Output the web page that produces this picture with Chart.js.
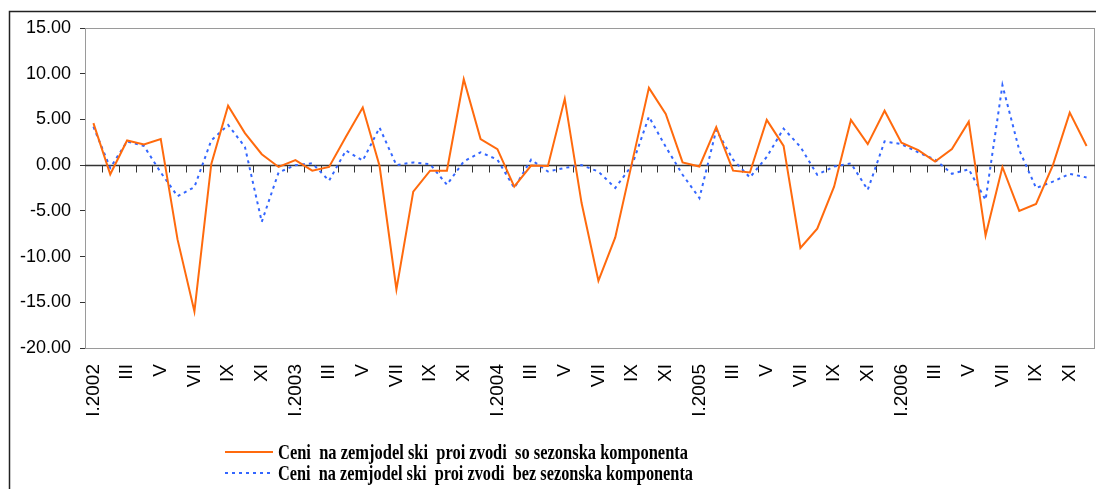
<!DOCTYPE html>
<html>
<head>
<meta charset="utf-8">
<script src="https://cdn.jsdelivr.net/npm/chart.js@4"></script>
<style>
html,body{margin:0;padding:0;background:#fff;}
canvas{display:block;}
</style>
</head>
<body>
<canvas id="c" width="1096" height="489"></canvas>
<script>
// ---- data ----
const years = ['2002','2003','2004','2005','2006'];
const months = ['I','II','III','IV','V','VI','VII','VIII','IX','X','XI','XII'];
const categories = [];
years.forEach(y => months.forEach((m, i) => categories.push(i === 0 ? m + '.' + y : m)));

const seriesNames = [
  'Ceni  na zemjodel ski  proi zvodi  so sezonska komponenta',
  'Ceni  na zemjodel ski  proi zvodi  bez sezonska komponenta'
];

const withSeasonal = [
  4.6, -1.0, 2.7, 2.25, 2.85, -8.15, -16.0, 0.1, 6.5, 3.5, 1.2, -0.2,
  0.55, -0.6, -0.2, 3.1, 6.3, -0.1, -13.6, -2.9, -0.6, -0.6, 9.4, 2.85,
  1.75, -2.35, -0.05, -0.1, 7.25, -4.15, -12.65, -7.9, 0.3, 8.45, 5.6, 0.3,
  -0.15, 4.15, -0.6, -0.8, 4.95, 2.1, -9.05, -6.95, -2.35, 4.95, 2.3, 5.95,
  2.45, 1.65, 0.4, 1.75, 4.75, -7.7, -0.2, -5.0, -4.25, 0.0, 5.75, 2.1
];

const withoutSeasonal = [
  4.2, -0.3, 2.6, 2.1, -0.8, -3.4, -2.4, 2.7, 4.4, 2.0, -6.2, -0.8,
  0.0, 0.2, -1.7, 1.6, 0.5, 4.1, 0.0, 0.3, 0.1, -2.15, 0.4, 1.4,
  0.6, -2.5, 0.6, -0.7, -0.3, 0.0, -0.7, -2.5, 0.0, 5.3, 2.0, -1.05,
  -3.6, 3.85, 0.6, -1.35, 0.9, 4.0, 2.0, -1.05, -0.15, 0.2, -2.7, 2.6,
  2.3, 1.4, 0.6, -0.95, -0.45, -3.8, 8.75, 1.65, -2.5, -1.8, -0.95, -1.35
];

const yMin = -20, yMax = 15, yStep = 5;

// ---- styles ----
const ORANGE = '#FF6A0D';
const BLUE = '#3366FF';

const framePlugin = {
  id: 'frame',
  beforeDraw(chart) {
    const ctx = chart.ctx;
    ctx.save();
    ctx.fillStyle = '#fff';
    ctx.fillRect(0, 0, chart.width, chart.height);
    ctx.strokeStyle = '#222';
    ctx.lineWidth = 1.5;
    ctx.strokeRect(9.5, 11.5, chart.width + 50, chart.height + 50);
    ctx.restore();
  },
  beforeDatasetsDraw(chart) {
    const ctx = chart.ctx;
    const a = chart.chartArea;
    const xs = chart.scales.x, ys = chart.scales.y;
    ctx.save();
    // plot area border
    ctx.strokeStyle = '#9a9a9a';
    ctx.lineWidth = 1;
    ctx.strokeRect(a.left + 0.5, a.top + 0.5, a.right - a.left - 1, a.bottom - a.top);
    // zero line
    const y0 = Math.round(ys.getPixelForValue(0)) + 0.5;
    ctx.strokeStyle = '#333';
    ctx.lineWidth = 1.3;
    ctx.beginPath();
    ctx.moveTo(a.left, y0);
    ctx.lineTo(a.right, y0);
    ctx.stroke();
    // tick marks at category boundaries hanging below zero line
    ctx.lineWidth = 1;
    ctx.beginPath();
    for (let i = 1; i < categories.length; i++) {
      const x = Math.round((xs.getPixelForValue(i - 1) + xs.getPixelForValue(i)) / 2) + 0.5;
      ctx.moveTo(x, y0);
      ctx.lineTo(x, y0 + 7);
    }
    ctx.stroke();
    ctx.restore();
  },
  afterDraw(chart) {
    const ctx = chart.ctx;
    ctx.save();
    const rows = [
      {y: 452, text: seriesNames[0], color: ORANGE, dash: [], w: 410},
      {y: 473, text: seriesNames[1], color: BLUE, dash: [3, 4], w: 415}
    ];
    rows.forEach(r => {
      ctx.strokeStyle = r.color;
      ctx.lineWidth = 2;
      ctx.setLineDash(r.dash);
      ctx.beginPath();
      ctx.moveTo(225, r.y);
      ctx.lineTo(273, r.y);
      ctx.stroke();
      ctx.setLineDash([]);
      ctx.font = 'bold 21px "Liberation Serif"';
      ctx.fillStyle = '#000';
      ctx.textBaseline = 'alphabetic';
      const mw = ctx.measureText(r.text).width;
      ctx.save();
      ctx.translate(278, r.y + 7);
      ctx.scale(r.w / mw, 1);
      ctx.fillText(r.text, 0, 0);
      ctx.restore();
    });
    ctx.restore();
  }
};

new Chart(document.getElementById('c'), {
  type: 'line',
  data: {
    labels: categories,
    datasets: [
      {
        label: seriesNames[0],
        data: withSeasonal,
        borderColor: ORANGE,
        backgroundColor: ORANGE,
        borderWidth: 2,
        pointRadius: 0,
        tension: 0,
        fill: false
      },
      {
        label: seriesNames[1],
        data: withoutSeasonal,
        borderColor: BLUE,
        backgroundColor: BLUE,
        borderWidth: 2,
        borderDash: [3, 4],
        pointRadius: 0,
        tension: 0,
        fill: false
      }
    ]
  },
  options: {
    responsive: false,
    animation: false,
    devicePixelRatio: 1,
    layout: { padding: { left: 0, top: 28, right: 1, bottom: 0 } },
    plugins: {
      legend: { display: false },
      tooltip: { enabled: false },
      title: { display: false }
    },
    scales: {
      x: {
        type: 'category',
        offset: true,
        grid: { display: false, drawTicks: false },
        border: { display: false },
        ticks: {
          autoSkip: false,
          minRotation: 90,
          maxRotation: 90,
          padding: 16,
          color: '#000',
          font: { family: '"Liberation Sans", Arial, sans-serif', size: 19 },
          callback: function(v, i) { return i % 2 === 0 ? categories[i] : ''; }
        },
        afterFit(scale) {
          scale.height = 141;
          scale.paddingLeft = 0;
          scale.paddingRight = 0;
        }
      },
      y: {
        min: yMin,
        max: yMax,
        grid: { drawOnChartArea: false, drawTicks: true, tickLength: 5, color: '#333' },
        border: { display: true, color: '#333', width: 1 },
        ticks: {
          stepSize: yStep,
          padding: 9,
          color: '#000',
          font: { family: '"Liberation Sans", Arial, sans-serif', size: 18 },
          callback: v => Number(v).toFixed(2)
        },
        afterFit(scale) {
          scale.width = 85;
          scale.paddingTop = 0;
          scale.paddingBottom = 0;
        }
      }
    }
  },
  plugins: [framePlugin]
});
</script>
</body>
</html>
